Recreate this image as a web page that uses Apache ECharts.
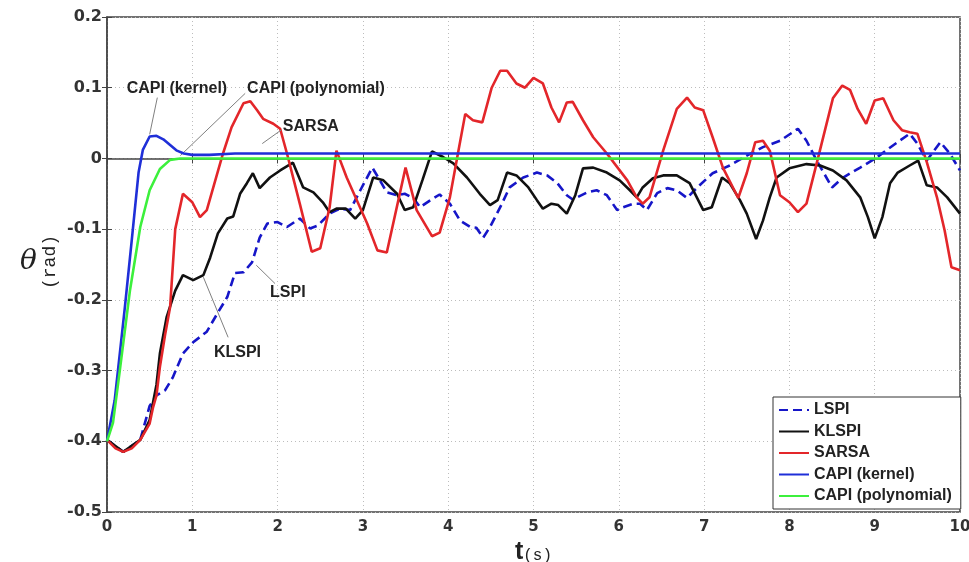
<!DOCTYPE html>
<html><head><meta charset="utf-8">
<script src="https://cdn.jsdelivr.net/npm/echarts@6/dist/echarts.min.js"></script>
<style>html,body{margin:0;padding:0;background:#fff}#c{width:969px;height:562px}</style>
</head><body><div id="c"></div>
<script>
const xTicks = [0,1,2,3,4,5,6,7,8,9,10];
const yTicks = [-0.5,-0.4,-0.3,-0.2,-0.1,0,0.1,0.2];
const seriesNames = ['LSPI','KLSPI','SARSA','CAPI (kernel)','CAPI (polynomial)'];

const lspi = [[0,-0.398],[0.19,-0.415],[0.39,-0.398],[0.5,-0.35],[0.58,-0.335],[0.68,-0.328],[0.77,-0.31],[0.89,-0.276],[1.01,-0.26],[1.17,-0.245],[1.29,-0.22],[1.41,-0.196],[1.5,-0.162],[1.6,-0.161],[1.7,-0.147],[1.79,-0.112],[1.88,-0.092],[2.0,-0.09],[2.11,-0.097],[2.26,-0.085],[2.38,-0.099],[2.47,-0.095],[2.61,-0.078],[2.73,-0.071],[2.85,-0.073],[2.97,-0.045],[3.11,-0.013],[3.2,-0.031],[3.28,-0.048],[3.4,-0.052],[3.49,-0.05],[3.59,-0.056],[3.67,-0.069],[3.78,-0.06],[3.9,-0.051],[4.02,-0.064],[4.14,-0.088],[4.26,-0.097],[4.33,-0.098],[4.41,-0.112],[4.49,-0.097],[4.61,-0.069],[4.72,-0.041],[4.88,-0.027],[5.04,-0.02],[5.16,-0.024],[5.28,-0.035],[5.39,-0.052],[5.46,-0.058],[5.63,-0.048],[5.74,-0.045],[5.86,-0.052],[5.98,-0.073],[6.05,-0.069],[6.17,-0.064],[6.25,-0.064],[6.33,-0.073],[6.45,-0.049],[6.57,-0.042],[6.68,-0.045],[6.8,-0.056],[6.92,-0.041],[7.1,-0.021],[7.3,-0.01],[7.5,0.004],[7.69,0.016],[7.89,0.025],[8.1,0.042],[8.2,0.025],[8.32,-0.003],[8.5,-0.041],[8.63,-0.027],[8.83,-0.013],[9.02,0.001],[9.21,0.018],[9.41,0.035],[9.5,0.021],[9.61,-0.003],[9.77,0.023],[9.88,0.007],[10,-0.017]];

const klspi = [[0,-0.398],[0.19,-0.415],[0.39,-0.398],[0.5,-0.37],[0.58,-0.32],[0.62,-0.276],[0.7,-0.224],[0.8,-0.187],[0.89,-0.165],[1.01,-0.172],[1.13,-0.165],[1.21,-0.14],[1.3,-0.106],[1.41,-0.085],[1.48,-0.082],[1.56,-0.05],[1.64,-0.035],[1.71,-0.021],[1.79,-0.042],[1.91,-0.027],[2.03,-0.017],[2.18,-0.006],[2.3,-0.041],[2.42,-0.048],[2.53,-0.062],[2.61,-0.076],[2.69,-0.071],[2.8,-0.071],[2.91,-0.085],[3.0,-0.073],[3.12,-0.027],[3.24,-0.031],[3.4,-0.05],[3.49,-0.073],[3.59,-0.069],[3.7,-0.03],[3.81,0.01],[3.94,0.002],[4.06,-0.007],[4.22,-0.027],[4.37,-0.05],[4.49,-0.066],[4.58,-0.059],[4.69,-0.02],[4.8,-0.024],[4.94,-0.041],[5.04,-0.059],[5.11,-0.071],[5.21,-0.064],[5.29,-0.066],[5.39,-0.078],[5.49,-0.052],[5.58,-0.014],[5.7,-0.013],[5.86,-0.02],[6.01,-0.031],[6.13,-0.045],[6.21,-0.055],[6.28,-0.041],[6.4,-0.028],[6.52,-0.024],[6.68,-0.024],[6.83,-0.035],[6.99,-0.073],[7.09,-0.069],[7.21,-0.027],[7.3,-0.035],[7.42,-0.059],[7.5,-0.078],[7.61,-0.114],[7.69,-0.088],[7.77,-0.055],[7.85,-0.027],[8.0,-0.014],[8.2,-0.008],[8.36,-0.01],[8.51,-0.017],[8.67,-0.031],[8.83,-0.055],[8.92,-0.083],[9.0,-0.113],[9.09,-0.083],[9.18,-0.035],[9.27,-0.02],[9.41,-0.01],[9.51,-0.003],[9.61,-0.038],[9.73,-0.041],[9.85,-0.055],[10,-0.078]];

const sarsa = [[0,-0.398],[0.1,-0.41],[0.19,-0.415],[0.29,-0.41],[0.39,-0.398],[0.5,-0.375],[0.54,-0.352],[0.58,-0.335],[0.62,-0.295],[0.68,-0.25],[0.74,-0.21],[0.8,-0.1],[0.89,-0.05],[1.0,-0.062],[1.09,-0.083],[1.17,-0.073],[1.36,0.007],[1.46,0.044],[1.6,0.078],[1.68,0.081],[1.76,0.068],[1.83,0.056],[1.95,0.049],[2.03,0.042],[2.11,0.007],[2.26,-0.064],[2.4,-0.132],[2.5,-0.127],[2.61,-0.069],[2.69,0.011],[2.81,-0.027],[3.05,-0.092],[3.17,-0.13],[3.28,-0.133],[3.5,-0.013],[3.63,-0.073],[3.81,-0.11],[3.9,-0.105],[4.02,-0.055],[4.12,0.011],[4.2,0.063],[4.29,0.054],[4.4,0.051],[4.51,0.1],[4.61,0.124],[4.69,0.124],[4.8,0.106],[4.9,0.1],[5.0,0.114],[5.11,0.106],[5.21,0.072],[5.3,0.051],[5.39,0.079],[5.46,0.08],[5.58,0.054],[5.7,0.03],[5.86,0.007],[6.1,-0.031],[6.21,-0.055],[6.28,-0.064],[6.36,-0.055],[6.52,0.011],[6.68,0.07],[6.8,0.086],[6.89,0.072],[6.99,0.068],[7.1,0.03],[7.22,-0.013],[7.4,-0.056],[7.5,-0.021],[7.6,0.023],[7.69,0.025],[7.77,0.011],[7.89,-0.052],[8.0,-0.062],[8.1,-0.076],[8.2,-0.064],[8.32,-0.007],[8.51,0.085],[8.62,0.103],[8.71,0.097],[8.8,0.07],[8.9,0.049],[9.0,0.082],[9.1,0.085],[9.22,0.054],[9.32,0.04],[9.41,0.037],[9.5,0.035],[9.61,-0.005],[9.73,-0.055],[9.82,-0.102],[9.9,-0.154],[10,-0.158]];

const capiKernel = [[0,-0.4],[0.09,-0.342],[0.21,-0.21],[0.29,-0.116],[0.37,-0.02],[0.42,0.012],[0.5,0.031],[0.58,0.032],[0.66,0.027],[0.74,0.019],[0.82,0.011],[0.9,0.007],[1.0,0.005],[1.2,0.005],[1.5,0.007],[10,0.007]];

const capiPoly = [[0,-0.4],[0.07,-0.374],[0.15,-0.3],[0.27,-0.186],[0.39,-0.097],[0.5,-0.045],[0.62,-0.015],[0.74,-0.002],[0.86,0],[10,0]];

// annotations: [text, textAnchor [t,θ], leaderStart [t,θ], leaderEnd [t,θ]]
const annotations = [
  ['CAPI (kernel)', [0.82,0.099], [0.59,0.086], [0.5,0.034]],
  ['CAPI (polynomial)', [2.45,0.099], [1.62,0.092], [0.86,0.004]],
  ['SARSA', [2.39,0.045], [2.04,0.04], [1.82,0.021]],
  ['LSPI', [2.12,-0.19], [1.97,-0.177], [1.75,-0.151]],
  ['KLSPI', [1.53,-0.275], [1.42,-0.253], [1.13,-0.168]]
];

const colors = ['#1616c8','#111111','#e3262a','#1f2fd8','#3cf03c'];
const styles = [[9,5],'solid','solid','solid','solid'];
const datas = [lspi, klspi, sarsa, capiKernel, capiPoly];
const zs = [2,3,4,5,6];

const fnt = '"Liberation Sans", Arial, sans-serif';
const tickFnt = '"DejaVu Sans", sans-serif';
const series = seriesNames.map((n,i)=>({
  name:n, type:'line', data:datas[i], showSymbol:false, symbol:'none', z:zs[i],
  lineStyle:{color:colors[i], width:2.6, type:styles[i]}, itemStyle:{color:colors[i]},
  animation:false
}));
series.push({
  name:'annot', type:'line', data:[], z:7, animation:false,
  markLine:{silent:true, symbol:['none','none'], animation:false,
    lineStyle:{color:'#808080', width:1, type:'solid'}, label:{show:false},
    data: annotations.map(a=>[{coord:a[2]},{coord:a[3]}])},
  markPoint:{silent:true, animation:false,
    data: annotations.map(a=>({coord:a[1], symbol:'circle', symbolSize:1, itemStyle:{color:'rgba(0,0,0,0)'},
      label:{show:true, position:'inside', formatter:a[0], color:'#222', fontFamily:fnt, fontWeight:'bold', fontSize:16}}))}
});

const chart = echarts.init(document.getElementById('c'), null, {renderer:'canvas'});
const fmt = v => { const r = Math.round(v*10)/10; return r===0 ? '0' : String(r); };
chart.setOption({
  animation:false,
  backgroundColor:'#fff',
  grid:{left:107, right:9, top:17, bottom:50, outerBoundsMode:'none', containLabel:false, show:true, borderColor:'#444', borderWidth:1.5},
  legend:{
    data: seriesNames, orient:'vertical', left:773, top:397,
    backgroundColor:'#fff', borderColor:'#333', borderWidth:1,
    padding:[5,9,5,5], itemWidth:30, itemHeight:14, itemGap:5.5,
    itemStyle:{opacity:0},
    textStyle:{fontFamily:fnt, fontWeight:'bold', fontSize:16, color:'#222'}
  },
  xAxis:[{
    type:'value', min:0, max:10, interval:1,
    name:'{t|t}{s|(s)}', nameLocation:'middle', nameGap:27,
    nameTextStyle:{rich:{t:{fontFamily:fnt, fontWeight:'bold', fontSize:25, color:'#222'}, s:{fontFamily:'"Liberation Mono", monospace', fontSize:16, color:'#222', padding:[6,0,0,0]}}},
    axisLine:{show:true, lineStyle:{color:'#444', width:1.5}},
    axisTick:{show:true, inside:true, length:5, lineStyle:{color:'#444'}},
    axisLabel:{fontFamily:tickFnt, fontWeight:'bold', fontSize:15, color:'#333', margin:8},
    splitLine:{show:true, lineStyle:{color:'#bdbdbd', type:[1,3], width:1}}
  },{
    type:'value', min:0, max:10, interval:1, position:'top',
    axisLine:{show:false}, axisTick:{show:true, inside:true, length:5, lineStyle:{color:'#444'}},
    axisLabel:{show:false}, splitLine:{show:false}
  }],
  yAxis:[{
    type:'value', min:-0.5, max:0.2, interval:0.1,
    axisLine:{show:true, lineStyle:{color:'#444', width:1.5}},
    axisTick:{show:true, inside:true, length:5, lineStyle:{color:'#444'}},
    axisLabel:{fontFamily:tickFnt, fontWeight:'bold', fontSize:16, color:'#333', margin:5, formatter:fmt},
    splitLine:{show:true, lineStyle:{color:'#bdbdbd', type:[1,3], width:1}}
  },{
    type:'value', min:-0.5, max:0.2, interval:0.1, position:'right',
    axisLine:{show:false}, axisTick:{show:true, inside:true, length:5, lineStyle:{color:'#444'}},
    axisLabel:{show:false}, splitLine:{show:false}
  }],
  graphic:[
    {type:'text', left:20, top:248, style:{text:'θ', font:'italic 28px "DejaVu Serif", serif', fill:'#222'}},
    {type:'text', x:50, y:262, rotation:Math.PI/2, style:{text:'(rad)', font:'18px "Liberation Mono", monospace', fill:'#222', textAlign:'center', textVerticalAlign:'middle'}}
  ],
  series: series
});
</script></body></html>
